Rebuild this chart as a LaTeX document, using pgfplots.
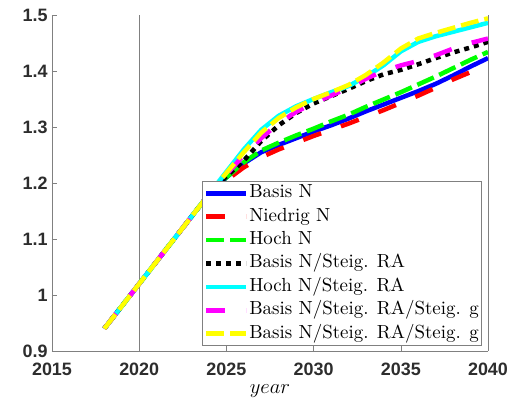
\documentclass[border=0pt]{standalone}
\usepackage{fontspec}
\usepackage{pgfplots}
\pgfplotsset{compat=1.18}
\newfontfamily\ticksf{Liberation Sans}
\newfontfamily\lmten{lmroman10-regular.otf}
\definecolor{axgray}{RGB}{128,128,128}
\definecolor{tickgray}{RGB}{45,45,45}
\definecolor{cBlue}{RGB}{0,0,255}
\definecolor{cRed}{RGB}{255,0,0}
\definecolor{cGreen}{RGB}{0,255,0}
\definecolor{cCyan}{RGB}{0,255,255}
\definecolor{cMag}{RGB}{255,0,255}
\definecolor{cYel}{RGB}{255,255,0}
\begin{document}
\begin{tikzpicture}
\begin{axis}[
  scale only axis,
  width=436bp, height=336bp,
  xmin=2015, xmax=2040, ymin=0.9, ymax=1.5,
  xtick={2015,2020,2025,2030,2035,2040},
  ytick={0.9,1,1.1,1.2,1.3,1.4,1.5},
  axis x line*=bottom, axis y line*=left,
  axis line style={axgray, line width=0.6pt},
  tick style={axgray, line width=0.6pt},
  tick align=inside,
  major tick length=5bp,
  /pgf/number format/1000 sep={},
  /pgf/number format/assume math mode=true,
  tick label style={font=\ticksf\bfseries\fontsize{18}{20}\selectfont, text=tickgray},
  xticklabel style={yshift=-8bp},
  yticklabel style={xshift=-1bp},
  extra x ticks={2020,2040},
  extra x tick labels={},
  extra x tick style={grid=major, major grid style={axgray, line width=0.6pt}, major tick length=0pt},
  xlabel={$year$},
  xlabel style={font=\fontsize{21}{23}\selectfont, at={(axis description cs:0.5,0)}, anchor=base, yshift=-43bp},
  legend cell align=left,
  legend style={at={(0.344,0.015)}, anchor=south west, draw=axgray, line width=0.6pt,
    font=\lmten\fontsize{19}{21}\selectfont, inner sep=1.5bp, row sep=2.4bp,
    nodes={inner sep=1bp, text height=14bp, text depth=5bp},
    /tikz/every even column/.append style={column sep=2bp}},
  legend image code/.code={\draw[#1, line cap=butt] (0bp,0bp) -- (40bp,0bp);},
  every axis plot/.append style={line width=4.5bp, line cap=butt},
]
\coordinate (ll) at (rel axis cs:0,0);
\coordinate (ur) at (rel axis cs:1,1);
\addplot[cBlue] coordinates {(2018,0.94)(2019,0.98)(2020,1.02)(2021,1.06)(2022,1.10)(2023,1.14)(2024,1.18)(2025,1.21)(2026,1.235)(2027,1.255)(2028,1.268)(2029,1.28)(2030,1.292)(2031,1.303)(2032,1.315)(2033,1.328)(2034,1.34)(2035,1.352)(2036,1.364)(2037,1.377)(2038,1.392)(2039,1.408)(2040,1.423)};
\addlegendentry{Basis N}
\addplot[cRed, dash pattern=on 19bp off 21bp] coordinates {(2018,0.94)(2019,0.98)(2020,1.02)(2021,1.06)(2022,1.10)(2023,1.14)(2024,1.18)(2025,1.205)(2026,1.228)(2027,1.246)(2028,1.26)(2029,1.272)(2030,1.284)(2031,1.295)(2032,1.306)(2033,1.318)(2034,1.33)(2035,1.343)(2036,1.356)(2037,1.37)(2038,1.385)(2039,1.398)(2040,1.41)};
\addlegendentry{Niedrig N}
\addplot[cGreen, dash pattern=on 18bp off 6bp] coordinates {(2018,0.94)(2019,0.98)(2020,1.02)(2021,1.06)(2022,1.10)(2023,1.14)(2024,1.18)(2025,1.21)(2026,1.237)(2027,1.258)(2028,1.272)(2029,1.285)(2030,1.297)(2031,1.31)(2032,1.322)(2033,1.336)(2034,1.349)(2035,1.362)(2036,1.376)(2037,1.39)(2038,1.405)(2039,1.42)(2040,1.434)};
\addlegendentry{Hoch N}
\addplot[black, dash pattern=on 5bp off 5bp] coordinates {(2018,0.94)(2019,0.98)(2020,1.02)(2021,1.06)(2022,1.10)(2023,1.14)(2024,1.18)(2025,1.212)(2026,1.24)(2027,1.275)(2028,1.303)(2029,1.325)(2030,1.342)(2031,1.355)(2032,1.368)(2033,1.382)(2034,1.394)(2035,1.402)(2036,1.412)(2037,1.423)(2038,1.433)(2039,1.442)(2040,1.452)};
\addlegendentry{Basis N/Steig. RA}
\addplot[cCyan] coordinates {(2018,0.94)(2019,0.98)(2020,1.02)(2021,1.06)(2022,1.10)(2023,1.14)(2024,1.18)(2025,1.22)(2026,1.26)(2027,1.295)(2028,1.32)(2029,1.337)(2030,1.35)(2031,1.362)(2032,1.373)(2033,1.39)(2034,1.41)(2035,1.435)(2036,1.452)(2037,1.462)(2038,1.47)(2039,1.478)(2040,1.486)};
\addlegendentry{Hoch N/Steig. RA}
\addplot[cMag, dash pattern=on 19bp off 21bp] coordinates {(2018,0.94)(2019,0.98)(2020,1.02)(2021,1.06)(2022,1.10)(2023,1.14)(2024,1.18)(2025,1.215)(2026,1.25)(2027,1.28)(2028,1.307)(2029,1.327)(2030,1.343)(2031,1.356)(2032,1.37)(2033,1.386)(2034,1.40)(2035,1.41)(2036,1.418)(2037,1.428)(2038,1.44)(2039,1.45)(2040,1.458)};
\addlegendentry{Basis N/Steig. RA/Steig. g}
\addplot[cYel, dash pattern=on 18bp off 6bp] coordinates {(2018,0.94)(2019,0.98)(2020,1.02)(2021,1.06)(2022,1.10)(2023,1.14)(2024,1.18)(2025,1.218)(2026,1.255)(2027,1.29)(2028,1.316)(2029,1.335)(2030,1.35)(2031,1.362)(2032,1.375)(2033,1.393)(2034,1.415)(2035,1.44)(2036,1.458)(2037,1.468)(2038,1.477)(2039,1.486)(2040,1.494)};
\addlegendentry{Basis N/Steig. RA/Steig. g}
\end{axis}
\path (ll) ++(-52bp,-53bp) coordinate (bbA);
\path (ur) ++(25bp,15bp) coordinate (bbB);
\pgfresetboundingbox
\useasboundingbox (bbA) rectangle (bbB);
\end{tikzpicture}
\end{document}
